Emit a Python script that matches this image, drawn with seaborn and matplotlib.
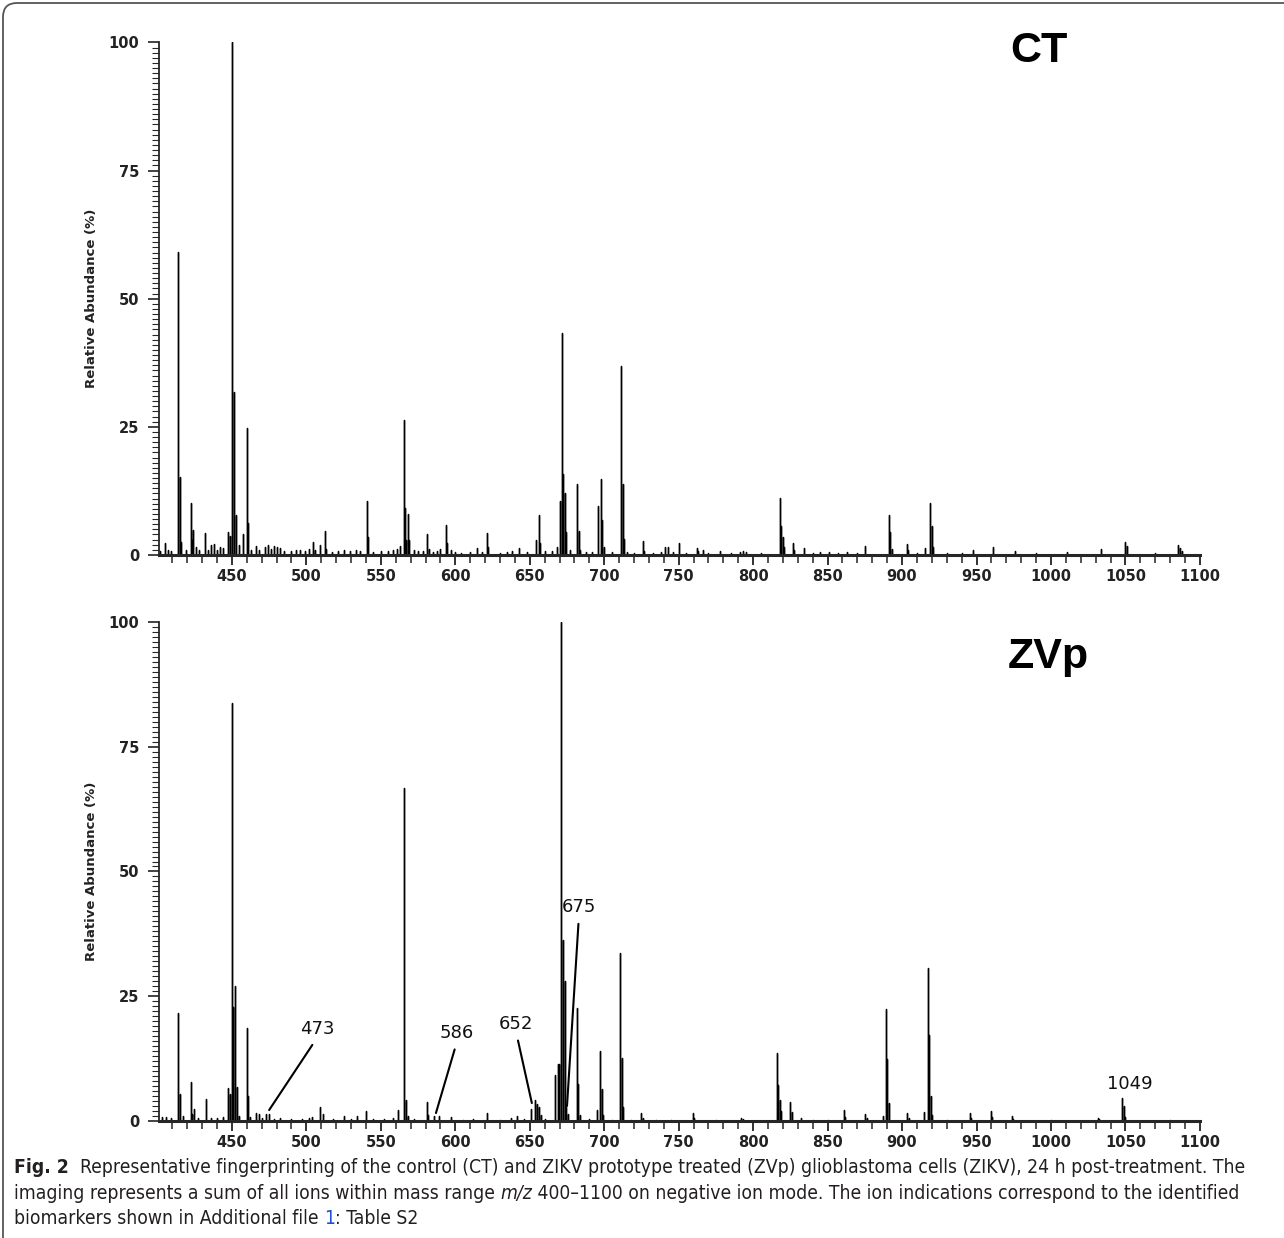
import numpy as np
import pandas as pd
import seaborn as sns
import matplotlib.pyplot as plt
from matplotlib.ticker import MultipleLocator
from matplotlib.patches import FancyBboxPatch
from matplotlib.transforms import IdentityTransform

# CT spectrum: peak m/z and relative abundance (%)
ct_mz = [402, 405, 407, 409, 414.1, 415, 416, 419, 422.2, 423, 424, 426, 428, 432.2, 434, 436,
         438, 440, 442, 444, 447.2, 448.4, 450, 451.2, 451.6, 452.5, 454.5, 457.6, 460, 460.9,
         463, 466, 468, 472, 474, 476, 478, 480, 482, 485, 490, 493, 496, 499, 502, 504.4, 506,
         509, 512.3, 513, 517, 521, 525, 529, 533, 536, 540.5, 541.2, 545, 550, 555, 558, 561,
         563, 565.3, 566.2, 567, 568.3, 569, 572, 575, 578, 581.3, 582, 585, 588, 590, 593.5,
         594.2, 597, 600, 604, 610, 614.4, 618, 621.3, 622, 630, 635, 638, 642.6, 648, 654.4,
         656, 657, 660, 665, 668, 670.1, 671.8, 672.5, 673.4, 674.5, 677, 682, 683, 684, 688,
         692, 696, 698.1, 698.8, 700, 705, 711.6, 712.3, 713.2, 715, 720, 725.9, 727, 733, 738,
         741, 742.8, 746, 750, 755, 762, 763, 766.6, 770, 778, 785, 791, 793, 795, 805, 818.2,
         819, 820, 821, 826.5, 827.5, 834.4, 840, 845, 851, 857, 863, 870, 875.4, 891.2, 892,
         893, 903, 904, 910, 915.4, 919, 920.1, 921, 930, 940, 947.4, 961.1, 975.8, 990, 1010.7,
         1033.9, 1050, 1051, 1070, 1085.5, 1086.5, 1088]
ct_ab = [0.8, 2.4, 1.0, 0.8, 59.2, 15.3, 2.5, 1.0, 10.1, 3.0, 4.9, 1.5, 1.0, 4.3, 1.0, 2.0,
         2.2, 1.0, 1.5, 1.3, 4.5, 3.8, 100, 27.2, 31.8, 7.8, 2.0, 4.0, 24.7, 6.3,
         1.0, 1.8, 1.0, 1.5, 2.0, 1.2, 1.8, 1.5, 1.3, 0.7, 0.8, 1.0, 1.0, 0.8, 1.2, 2.6, 1.0,
         2.0, 4.7, 1.2, 0.6, 0.8, 1.0, 0.8, 1.0, 0.8, 10.6, 3.5, 0.5, 0.7, 0.8, 1.0, 1.2,
         1.8, 26.3, 9.2, 3.0, 8.0, 3.0, 1.0, 0.8, 0.8, 4.0, 1.2, 0.6, 0.8, 1.2, 5.9,
         2.4, 1.0, 0.6, 0.4, 0.6, 1.4, 0.6, 4.2, 1.5, 0.4, 0.6, 0.8, 1.3, 0.6, 2.9,
         7.8, 2.4, 0.8, 0.8, 1.5, 10.5, 43.3, 15.8, 12.0, 4.5, 1.0, 13.8, 4.7, 1.0, 0.5,
         0.6, 9.5, 14.8, 6.8, 1.5, 0.5, 36.9, 13.9, 3.1, 0.6, 0.4, 2.8, 0.8, 0.4, 0.6,
         1.5, 1.5, 0.5, 2.3, 0.4, 1.4, 0.8, 1.0, 0.4, 0.7, 0.3, 0.5, 0.7, 0.5, 0.3, 11.1,
         5.7, 3.5, 1.5, 2.3, 1.0, 1.4, 0.3, 0.6, 0.6, 0.3, 0.6, 0.3, 1.7, 7.9, 4.4,
         1.2, 2.1, 0.9, 0.3, 1.4, 10.2, 5.7, 1.5, 0.3, 0.3, 1.0, 1.6, 0.8, 0.3, 0.6,
         1.2, 2.6, 1.7, 0.3, 2.0, 1.4, 0.7]

# ZVp spectrum
zv_mz = [403, 406, 409, 414.1, 415, 417, 422.2, 423, 424.5, 427, 432.6, 436, 440, 444, 447.2,
         448.4, 450, 450.7, 451.9, 453.2, 455, 460, 460.9, 462, 466, 468, 470, 473, 474.8, 478,
         482, 490, 497, 502, 504, 509, 511.3, 518, 525, 530, 534, 539.8, 545, 552, 558, 561.8,
         565.3, 565.7, 566.9, 568, 572, 580.8, 581.8, 586, 589, 597, 605, 612, 621.3, 630,
         637.5, 641.7, 646, 650.9, 653.2, 654.9, 656, 657.5, 660, 667.1, 668.8, 669.9, 671.3,
         672, 673.4, 674.5, 675.7, 681.5, 682.2, 683.5, 690, 695.4, 697.2, 698.4, 699.5, 705,
         710.9, 711.8, 712.7, 718, 725, 726, 735, 745, 759.5, 760.5, 775, 791.6, 793, 816, 817,
         818, 819, 824.8, 825.8, 832, 840, 850, 861.2, 862, 875.4, 876.5, 887.3, 889.2, 890.1,
         891.3, 903.4, 904.5, 915, 917.5, 918.2, 919.1, 920, 930, 945.5, 946.5, 959.5, 960.5,
         973.7, 974.7, 1000, 1031.5, 1032.5, 1047.6, 1048.8, 1049.8, 1080]
zv_ab = [0.8, 0.9, 0.7, 21.6, 5.4, 1.0, 7.9, 1.5, 2.5, 0.6, 4.4, 0.7, 0.6, 0.8, 6.7,
         5.4, 83.7, 22.9, 27.0, 6.8, 1.0, 18.6, 5.0, 0.8, 1.6, 1.5, 0.6, 1.4, 1.4, 0.5,
         0.6, 0.4, 0.5, 0.7, 0.8, 2.9, 1.4, 0.4, 1.1, 0.5, 1.0, 2.0, 0.4, 0.4, 0.6, 2.2,
         66.7, 23.7, 4.3, 1.0, 0.5, 3.9, 1.3, 1.1, 1.1, 0.9, 0.3, 0.4, 1.6, 0.3,
         0.7, 1.0, 0.4, 2.5, 4.3, 3.4, 2.9, 1.2, 0.4, 9.2, 11.5, 11.5, 100,
         36.2, 28.0, 2.9, 1.4, 22.7, 7.5, 1.2, 0.4, 2.2, 14.1, 6.5, 1.2, 0.3,
         33.7, 12.7, 2.9, 0.3, 1.6, 0.6, 0.3, 0.3, 1.6, 0.6, 0.2, 0.6, 0.4, 13.6, 7.2,
         4.3, 2.0, 3.8, 1.9, 0.7, 0.3, 0.2, 2.2, 0.8, 1.4, 0.6, 1.1, 22.4, 12.4,
         3.6, 1.6, 0.7, 1.8, 30.6, 17.2, 5.0, 1.2, 0.3, 1.6, 0.7, 2.0, 0.8,
         1.1, 0.5, 0.2, 0.7, 0.5, 4.7, 3.0, 0.9, 0.2]

# identified biomarkers in ZVp (label, peak m/z, abundance at pointer end)
ion_labels = ['473', '586', '652', '675']
ion_mz = [475, 587, 651.4, 675]
ion_ab = [2.2, 1.6, 3.6, 3.0]


def stick_frame(mz, ab):
    order = np.argsort(mz)
    m = np.asarray(mz, dtype=float)[order]
    a = np.asarray(ab, dtype=float)[order]
    xs = np.repeat(m, 3)
    ys = np.column_stack([np.zeros_like(a), a, np.zeros_like(a)]).ravel()
    return pd.DataFrame({'mz': xs, 'abundance': ys})


sns.set_theme(style='ticks')
plt.rcParams['font.family'] = ['DejaVu Sans']

fig = plt.figure(figsize=(12.84, 12.38), dpi=100)
ax_ct = fig.add_axes([0.1238, 0.5517, 0.8107, 0.414])
ax_zv = fig.add_axes([0.1238, 0.0945, 0.8107, 0.4031])

for ax, mz, ab in [(ax_ct, ct_mz, ct_ab), (ax_zv, zv_mz, zv_ab)]:
    sns.lineplot(data=stick_frame(mz, ab), x='mz', y='abundance', sort=False,
                 estimator=None, color='black', linewidth=1.0, ax=ax)
    ax.set_xlim(401, 1100)
    ax.set_ylim(0, 100)
    sns.despine(ax=ax)
    ax.spines['bottom'].set_linewidth(2.2)
    ax.spines['left'].set_linewidth(1.3)
    ax.xaxis.set_major_locator(MultipleLocator(50))
    ax.xaxis.set_minor_locator(MultipleLocator(10))
    ax.yaxis.set_major_locator(MultipleLocator(25))
    ax.yaxis.set_minor_locator(MultipleLocator(1))
    ax.tick_params(axis='x', which='major', length=7, width=1.3, pad=3,
                   labelsize=10.5, colors='#222222')
    ax.tick_params(axis='x', which='minor', length=6, width=1.1)
    ax.tick_params(axis='y', which='major', length=8, width=1.2, pad=6,
                   labelsize=10.5, colors='#222222')
    ax.tick_params(axis='y', which='minor', length=5, width=0.8)
    for lab in ax.get_xticklabels() + ax.get_yticklabels():
        lab.set_fontweight('bold')
    ax.set_xlabel('')
    ax.set_ylabel('Relative Abundance (%)', fontsize=9.5, fontweight='bold',
                  labelpad=8, color='#222222')

fig.text(1010 / 1284, 1 - 62 / 1238, 'CT', family='Liberation Sans',
         fontweight='bold', fontsize=31, va='baseline', color='black')
fig.text(1008 / 1284, 1 - 668 / 1238, 'ZVp', family='Liberation Sans',
         fontweight='bold', fontsize=31, va='baseline', color='black')

# biomarker pointers
text_pos = [(507, 16.6), (601, 15.8), (641, 17.6), (683, 41.0)]
for lab, m, a, (tx, ty) in zip(ion_labels, ion_mz, ion_ab, text_pos):
    ax_zv.annotate(lab, xy=(m, a), xytext=(tx, ty), ha='center', va='bottom',
                   fontsize=13, color='#111111',
                   arrowprops=dict(arrowstyle='-', color='black', lw=1.5,
                                   shrinkA=3, shrinkB=0, relpos=(0.5, 0)))
ax_zv.text(1053, 5.6, '1049', ha='center', va='bottom', fontsize=13, color='#111111')

# frame of the figure panel
frame = FancyBboxPatch((3, -60), 1500, 1235 + 60, boxstyle='round,pad=0,rounding_size=14',
                       transform=IdentityTransform(), facecolor='none',
                       edgecolor='#555555', lw=1.3)
fig.add_artist(frame)

# caption
cap_texts = []


def cap_style(extra):
    kw = dict(family='DejaVu Sans', fontstretch='condensed', fontsize=14.5,
              color='#231f20')
    kw.update(extra)
    return kw


def caption_line(y, parts):
    prev = fig.text(14 / 1284, y, parts[0][0], va='bottom', **cap_style(parts[0][1]))
    line = [prev]
    for txt, extra in parts[1:]:
        prev = ax_zv.annotate(txt, xy=(1, 0), xycoords=prev, va='bottom', ha='left',
                              annotation_clip=False, **cap_style(extra))
        line.append(prev)
    cap_texts.append(line)


caption_line(1 - 1177 / 1238, [
    ('Fig. 2', dict(fontweight='bold')),
    ('  Representative fingerprinting of the control (CT) and ZIKV prototype treated (ZVp) '
     'glioblastoma cells (ZIKV), 24 h post-treatment. The', {})])
caption_line(1 - 1203 / 1238, [
    ('imaging represents a sum of all ions within mass range ', {}),
    ('m/z', dict(style='italic')),
    (' 400\u20131100 on negative ion mode. The ion indications correspond to the identified', {})])
caption_line(1 - 1228 / 1238, [
    ('biomarkers shown in Additional file ', {}),
    ('1', dict(color='#1f4fd8')),
    (': Table S2', {})])

# fit the first caption line to the width it has in the figure
fig.canvas.draw()
r = fig.canvas.get_renderer()
right = cap_texts[0][-1].get_window_extent(r).x1
scale = (1240 - 14) / (right - 14)
for line in cap_texts:
    for t in line:
        t.set_fontsize(t.get_fontsize() * scale)

fig.savefig('out.png', dpi=100, facecolor='white')
